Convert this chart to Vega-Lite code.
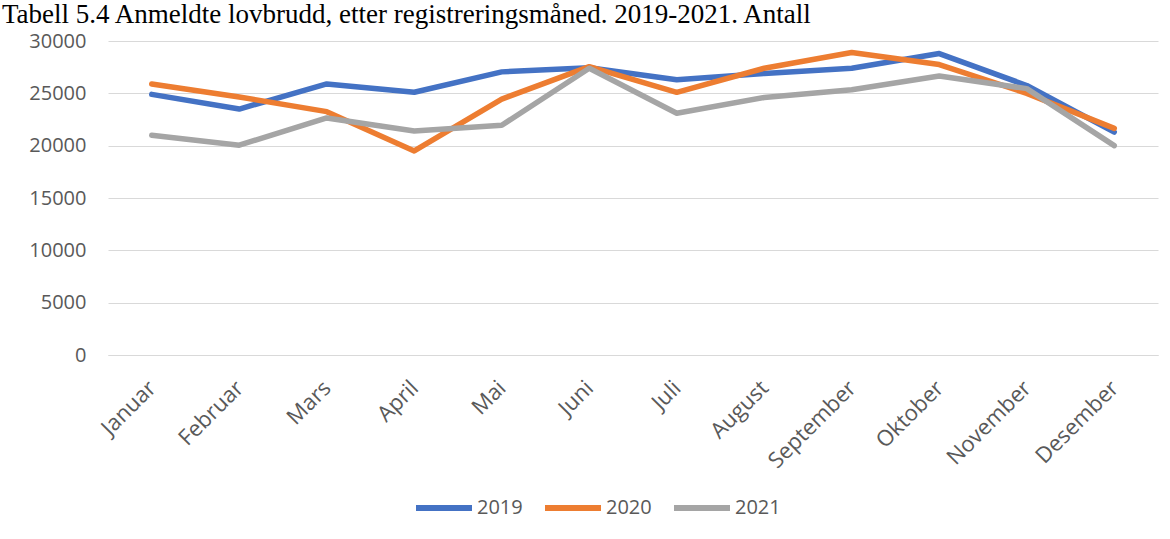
{
  "$schema": "https://vega.github.io/schema/vega-lite/v6.json",
  "width": 1050,
  "height": 314,
  "autosize": {"type": "none"},
  "padding": {"left": 108, "top": 41, "right": 12, "bottom": 184},
  "background": "white",
  "title": {
    "text": "Tabell 5.4 Anmeldte lovbrudd, etter registreringsmåned. 2019-2021. Antall",
    "anchor": "start",
    "frame": "group",
    "dx": -106,
    "offset": 0,
    "dy": 19,
    "baseline": "alphabetic",
    "font": "Liberation Serif",
    "fontSize": 27,
    "fontWeight": "normal",
    "color": "#000000"
  },
  "data": {
    "values": [
      {"maned": "Januar", "ar": "2019", "antall": 24900},
      {"maned": "Februar", "ar": "2019", "antall": 23500},
      {"maned": "Mars", "ar": "2019", "antall": 25900},
      {"maned": "April", "ar": "2019", "antall": 25100},
      {"maned": "Mai", "ar": "2019", "antall": 27050},
      {"maned": "Juni", "ar": "2019", "antall": 27450},
      {"maned": "Juli", "ar": "2019", "antall": 26300},
      {"maned": "August", "ar": "2019", "antall": 26900},
      {"maned": "September", "ar": "2019", "antall": 27400},
      {"maned": "Oktober", "ar": "2019", "antall": 28800},
      {"maned": "November", "ar": "2019", "antall": 25750},
      {"maned": "Desember", "ar": "2019", "antall": 21300},
      {"maned": "Januar", "ar": "2020", "antall": 25900},
      {"maned": "Februar", "ar": "2020", "antall": 24650},
      {"maned": "Mars", "ar": "2020", "antall": 23250},
      {"maned": "April", "ar": "2020", "antall": 19500},
      {"maned": "Mai", "ar": "2020", "antall": 24450},
      {"maned": "Juni", "ar": "2020", "antall": 27550},
      {"maned": "Juli", "ar": "2020", "antall": 25100},
      {"maned": "August", "ar": "2020", "antall": 27400},
      {"maned": "September", "ar": "2020", "antall": 28900},
      {"maned": "Oktober", "ar": "2020", "antall": 27750},
      {"maned": "November", "ar": "2020", "antall": 25000},
      {"maned": "Desember", "ar": "2020", "antall": 21650},
      {"maned": "Januar", "ar": "2021", "antall": 21000},
      {"maned": "Februar", "ar": "2021", "antall": 20050},
      {"maned": "Mars", "ar": "2021", "antall": 22650},
      {"maned": "April", "ar": "2021", "antall": 21400},
      {"maned": "Mai", "ar": "2021", "antall": 21950},
      {"maned": "Juni", "ar": "2021", "antall": 27400},
      {"maned": "Juli", "ar": "2021", "antall": 23100},
      {"maned": "August", "ar": "2021", "antall": 24600},
      {"maned": "September", "ar": "2021", "antall": 25350},
      {"maned": "Oktober", "ar": "2021", "antall": 26650},
      {"maned": "November", "ar": "2021", "antall": 25450},
      {"maned": "Desember", "ar": "2021", "antall": 20000}
    ]
  },
  "mark": {"type": "line", "strokeWidth": 5.5, "strokeCap": "round", "strokeJoin": "round"},
  "encoding": {
    "x": {
      "field": "maned",
      "type": "ordinal",
      "sort": null,
      "scale": {"padding": 0.5},
      "axis": {
        "title": null,
        "labelAngle": -45,
        "labelFont": "Open Sans",
        "labelFontSize": 22,
        "labelColor": "#595959",
        "labelPadding": 22,
        "labelOffset": -7,
        "ticks": false,
        "domain": true,
        "domainColor": "#D9D9D9",
        "grid": false
      }
    },
    "y": {
      "field": "antall",
      "type": "quantitative",
      "scale": {"domain": [0, 30000], "nice": false},
      "axis": {
        "title": null,
        "values": [0, 5000, 10000, 15000, 20000, 25000, 30000],
        "format": "d",
        "labelFont": "Open Sans",
        "labelFontSize": 20,
        "labelColor": "#595959",
        "labelPadding": 22,
        "ticks": false,
        "domain": false,
        "grid": true,
        "gridColor": "#D9D9D9",
        "gridWidth": 1.2
      }
    },
    "color": {
      "field": "ar",
      "type": "nominal",
      "scale": {"domain": ["2019", "2020", "2021"], "range": ["#4472C4", "#ED7D31", "#A5A5A5"]},
      "legend": {
        "title": null,
        "orient": "none",
        "direction": "horizontal",
        "legendX": 305,
        "legendY": 436,
        "symbolType": "stroke",
        "symbolSize": 3136,
        "symbolStrokeWidth": 6,
        "labelFont": "Open Sans",
        "labelFontSize": 20,
        "labelColor": "#595959",
        "labelOffset": 2,
        "columnPadding": 10
      }
    }
  },
  "config": {"view": {"stroke": null}}
}
